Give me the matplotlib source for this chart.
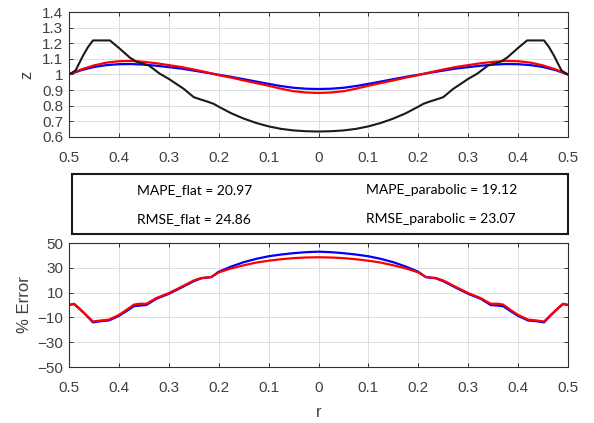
import matplotlib
matplotlib.use("Agg")
import matplotlib.pyplot as plt
from matplotlib.patches import Rectangle
import numpy as np

# radial profiles: measured surface vs. flat and parabolic fits
r_model = [-0.5, -0.475, -0.45, -0.425, -0.4, -0.375, -0.35, -0.325, -0.3, -0.275,
           -0.25, -0.225, -0.2, -0.175, -0.15, -0.125, -0.1, -0.075, -0.05, -0.025,
           0.0, 0.025, 0.05, 0.075, 0.1, 0.125, 0.15, 0.175, 0.2, 0.225,
           0.25, 0.275, 0.3, 0.325, 0.35, 0.375, 0.4, 0.425, 0.45, 0.475, 0.5]
z_flat = [1.000, 1.028, 1.048, 1.060, 1.066, 1.067, 1.063, 1.056, 1.047, 1.038,
          1.025, 1.012, 0.998, 0.985, 0.970, 0.955, 0.940, 0.926, 0.915, 0.909,
          0.907, 0.909, 0.915, 0.926, 0.940, 0.955, 0.970, 0.985, 0.998, 1.012,
          1.025, 1.038, 1.047, 1.056, 1.063, 1.067, 1.066, 1.060, 1.048, 1.028, 1.000]
z_parabolic = [1.000, 1.033, 1.058, 1.076, 1.085, 1.087, 1.081, 1.072, 1.060, 1.048,
               1.032, 1.015, 0.996, 0.980, 0.962, 0.945, 0.928, 0.909, 0.893, 0.885,
               0.882, 0.885, 0.893, 0.909, 0.928, 0.945, 0.962, 0.980, 0.996, 1.015,
               1.032, 1.048, 1.060, 1.072, 1.081, 1.087, 1.085, 1.076, 1.058, 1.033, 1.000]

r_meas = [-0.5, -0.487, -0.472, -0.462, -0.452, -0.418, -0.4, -0.378, -0.365, -0.355,
          -0.34, -0.318, -0.3, -0.27, -0.25, -0.238, -0.222, -0.21, -0.2, -0.175,
          -0.15, -0.125, -0.1, -0.075, -0.05, -0.025, 0.0,
          0.025, 0.05, 0.075, 0.1, 0.125, 0.15, 0.175, 0.2, 0.21, 0.222,
          0.238, 0.25, 0.27, 0.3, 0.318, 0.34, 0.355, 0.365, 0.378, 0.4,
          0.418, 0.452, 0.462, 0.472, 0.487, 0.5]
z_meas = [1.000, 1.025, 1.120, 1.175, 1.218, 1.218, 1.170, 1.108, 1.082, 1.072,
          1.058, 1.005, 0.972, 0.908, 0.855, 0.842, 0.826, 0.812, 0.794, 0.752,
          0.718, 0.690, 0.668, 0.652, 0.642, 0.637, 0.635,
          0.637, 0.642, 0.652, 0.668, 0.690, 0.718, 0.752, 0.794, 0.812, 0.826,
          0.842, 0.855, 0.908, 0.972, 1.005, 1.058, 1.072, 1.082, 1.108, 1.170,
          1.218, 1.218, 1.175, 1.120, 1.025, 1.000]

# percent error of each fit against the measurement
r_err = [-0.5, -0.49, -0.478, -0.465, -0.452, -0.435, -0.42, -0.4, -0.385, -0.37,
         -0.36, -0.345, -0.325, -0.3, -0.275, -0.25, -0.235, -0.215, -0.2, -0.175,
         -0.15, -0.125, -0.1, -0.075, -0.05, -0.025, 0.0,
         0.025, 0.05, 0.075, 0.1, 0.125, 0.15, 0.175, 0.2, 0.215, 0.235,
         0.25, 0.275, 0.3, 0.325, 0.345, 0.36, 0.37, 0.385, 0.4, 0.42,
         0.435, 0.452, 0.465, 0.478, 0.49, 0.5]
err_flat = [0.0, 0.8, -3.5, -8.5, -14.0, -13.0, -12.5, -8.8, -5.0, -1.0,
            -0.5, 0.0, 5.0, 9.0, 14.0, 19.2, 21.5, 22.5, 26.8, 31.0,
            34.5, 37.2, 39.3, 40.7, 41.8, 42.6, 43.0,
            42.6, 41.8, 40.7, 39.3, 37.2, 34.5, 31.0, 26.8, 22.5, 21.5,
            19.2, 14.0, 9.0, 5.0, 0.0, -0.5, -1.0, -5.0, -8.8, -12.5,
            -13.0, -14.0, -8.5, -3.5, 0.8, 0.0]
err_parabolic = [0.0, 1.0, -3.2, -8.2, -13.3, -12.4, -11.8, -8.0, -4.0, 0.3,
                 1.0, 1.0, 5.6, 9.6, 14.6, 19.8, 21.8, 22.5, 26.3, 29.5,
                 32.0, 34.2, 35.7, 36.9, 37.8, 38.3, 38.5,
                 38.3, 37.8, 36.9, 35.7, 34.2, 32.0, 29.5, 26.3, 22.5, 21.8,
                 19.8, 14.6, 9.6, 5.6, 1.0, 1.0, 0.3, -4.0, -8.0, -11.8,
                 -12.4, -13.3, -8.2, -3.2, 1.0, 0.0]

x_ticks = [-0.5, -0.4, -0.3, -0.2, -0.1, 0.0, 0.1, 0.2, 0.3, 0.4, 0.5]
x_tick_labels = ["0.5", "0.4", "0.3", "0.2", "0.1", "0", "0.1", "0.2", "0.3", "0.4", "0.5"]
z_ticks = [0.6, 0.7, 0.8, 0.9, 1.0, 1.1, 1.2, 1.3, 1.4]
z_tick_labels = ["0.6", "0.7", "0.8", "0.9", "1", "1.1", "1.2", "1.3", "1.4"]
err_ticks = [-50, -30, -10, 10, 30, 50]

stats = [("MAPE_flat = 20.97", "MAPE_parabolic = 19.12"),
         ("RMSE_flat = 24.86", "RMSE_parabolic = 23.07")]

plt.rcParams["font.family"] = ["Liberation Sans", "DejaVu Sans"]
TXT = "#404040"
SPINE = "#2e2e2e"

W, H = 594, 423
fig = plt.figure(figsize=(W / 100, H / 100), dpi=100)


def frac(x0, y0, x1, y1):
    """pixel box -> figure fraction [left, bottom, width, height]"""
    return [x0 / W, 1 - y1 / H, (x1 - x0) / W, (y1 - y0) / H]


def style(ax):
    ax.set_xlim(-0.5, 0.5)
    ax.set_xticks(x_ticks)
    ax.set_xticklabels(x_tick_labels)
    ax.grid(True, color="#dedede", linewidth=0.7)
    ax.set_axisbelow(True)
    ax.tick_params(direction="in", length=3, width=0.7, color=SPINE,
                   top=True, right=True, labelsize=11, labelcolor=TXT)
    ax.tick_params(axis="x", pad=10)
    ax.tick_params(axis="y", pad=4)
    for s in ax.spines.values():
        s.set_color(SPINE)
        s.set_linewidth(0.8)


ax1 = fig.add_axes(frac(69, 12, 568, 137))
ax1.plot(r_model, z_flat, color="#0000ff", lw=1.6)
ax1.plot(r_model, z_parabolic, color="#ff0000", lw=1.6)
ax1.plot(r_meas, z_meas, color="#1a1a1a", lw=1.5)
style(ax1)
ax1.set_ylim(0.6, 1.4)
ax1.set_yticks(z_ticks)
ax1.set_yticklabels(z_tick_labels)
ax1.set_ylabel("z", fontsize=12, color=TXT, labelpad=6)

ax2 = fig.add_axes(frac(69, 243, 568, 367))
ax2.plot(r_err, err_flat, color="#0000ff", lw=1.6)
ax2.plot(r_err, err_parabolic, color="#ff0000", lw=1.6)
style(ax2)
ax2.set_ylim(-50, 50)
ax2.set_yticks(err_ticks)
ax2.set_ylabel("% Error", fontsize=12, color=TXT, labelpad=4)
ax2.set_xlabel("r", fontsize=12, color=TXT, labelpad=7)

# summary box between the panels
fig.patches.append(Rectangle((72 / W, 1 - 234 / H), 496 / W, 60 / H,
                             transform=fig.transFigure, fill=False,
                             edgecolor="#1a1a1a", linewidth=1.5))
row_y = [190, 219]
col_x = [137, 366]
for (left, right), y in zip(stats, row_y):
    for txt, x in zip((left, right), col_x):
        fig.text(x / W, 1 - y / H, txt, ha="left", va="center", fontsize=10,
                 family=["Lato", "DejaVu Sans"], color="black")

fig.savefig("out.png", dpi=100, facecolor="white")
